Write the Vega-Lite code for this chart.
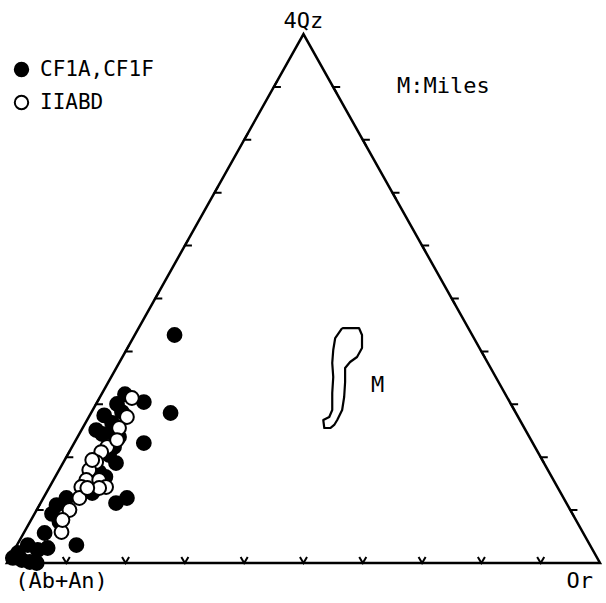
{
  "$schema": "https://vega.github.io/schema/vega-lite/v6.json",
  "width": 606,
  "height": 603,
  "autosize": {"type": "fit", "contains": "padding"},
  "padding": 0,
  "background": "white",
  "config": {"view": {"stroke": null}},
  "datasets": {
    "triangle": [
      {"order": 0, "x": 0, "y": 0},
      {"order": 1, "x": 100, "y": 0},
      {"order": 2, "x": 50, "y": 100},
      {"order": 3, "x": 0, "y": 0},
      {"order": 4, "x": 100, "y": 0}
    ],
    "ticks": [
      {"edge": "bottom", "x": 10, "y": 0}, {"edge": "bottom", "x": 20, "y": 0}, {"edge": "bottom", "x": 30, "y": 0},
      {"edge": "bottom", "x": 40, "y": 0}, {"edge": "bottom", "x": 50, "y": 0}, {"edge": "bottom", "x": 60, "y": 0},
      {"edge": "bottom", "x": 70, "y": 0}, {"edge": "bottom", "x": 80, "y": 0}, {"edge": "bottom", "x": 90, "y": 0},
      {"edge": "left", "x": 5, "y": 10}, {"edge": "left", "x": 10, "y": 20}, {"edge": "left", "x": 15, "y": 30},
      {"edge": "left", "x": 20, "y": 40}, {"edge": "left", "x": 25, "y": 50}, {"edge": "left", "x": 30, "y": 60},
      {"edge": "left", "x": 35, "y": 70}, {"edge": "left", "x": 40, "y": 80}, {"edge": "left", "x": 45, "y": 90},
      {"edge": "right", "x": 95, "y": 10}, {"edge": "right", "x": 90, "y": 20}, {"edge": "right", "x": 85, "y": 30},
      {"edge": "right", "x": 80, "y": 40}, {"edge": "right", "x": 75, "y": 50}, {"edge": "right", "x": 70, "y": 60},
      {"edge": "right", "x": 65, "y": 70}, {"edge": "right", "x": 60, "y": 80}, {"edge": "right", "x": 55, "y": 90}
    ],
    "miles": [
      {"order": 0, "x": 56.52, "y": 44.42}, {"order": 1, "x": 59.36, "y": 44.42}, {"order": 2, "x": 59.87, "y": 43.1},
      {"order": 3, "x": 59.87, "y": 40.64}, {"order": 4, "x": 59.03, "y": 38.94}, {"order": 5, "x": 57.86, "y": 38.0},
      {"order": 6, "x": 57.02, "y": 36.86}, {"order": 7, "x": 57.02, "y": 34.22}, {"order": 8, "x": 56.86, "y": 31.38},
      {"order": 9, "x": 56.52, "y": 28.92}, {"order": 10, "x": 55.69, "y": 27.03}, {"order": 11, "x": 55.18, "y": 26.09},
      {"order": 12, "x": 54.52, "y": 25.52}, {"order": 13, "x": 53.51, "y": 25.52}, {"order": 14, "x": 53.34, "y": 27.03},
      {"order": 15, "x": 54.35, "y": 27.6}, {"order": 16, "x": 54.85, "y": 28.92}, {"order": 17, "x": 54.85, "y": 32.14},
      {"order": 18, "x": 55.02, "y": 35.16}, {"order": 19, "x": 54.85, "y": 37.81}, {"order": 20, "x": 55.02, "y": 40.26},
      {"order": 21, "x": 55.35, "y": 42.53}, {"order": 22, "x": 56.52, "y": 44.42}
    ],
    "samples": [
      {"group": "CF1A,CF1F", "x": 28.26, "y": 43.1},
      {"group": "CF1A,CF1F", "x": 27.59, "y": 28.36},
      {"group": "CF1A,CF1F", "x": 23.08, "y": 30.43},
      {"group": "CF1A,CF1F", "x": 18.56, "y": 30.06},
      {"group": "CF1A,CF1F", "x": 15.05, "y": 25.14},
      {"group": "CF1A,CF1F", "x": 17.73, "y": 26.47},
      {"group": "CF1A,CF1F", "x": 18.9, "y": 23.82},
      {"group": "CF1A,CF1F", "x": 18.06, "y": 21.93},
      {"group": "CF1A,CF1F", "x": 23.08, "y": 22.68},
      {"group": "CF1A,CF1F", "x": 18.39, "y": 18.9},
      {"group": "CF1A,CF1F", "x": 15.55, "y": 17.2},
      {"group": "CF1A,CF1F", "x": 14.38, "y": 13.23},
      {"group": "CF1A,CF1F", "x": 18.39, "y": 11.34},
      {"group": "CF1A,CF1F", "x": 20.23, "y": 12.29},
      {"group": "CF1A,CF1F", "x": 10.03, "y": 12.29},
      {"group": "CF1A,CF1F", "x": 8.36, "y": 10.96},
      {"group": "CF1A,CF1F", "x": 8.86, "y": 7.75},
      {"group": "CF1A,CF1F", "x": 6.35, "y": 5.67},
      {"group": "CF1A,CF1F", "x": 11.71, "y": 3.4},
      {"group": "CF1A,CF1F", "x": 3.51, "y": 3.4},
      {"group": "CF1A,CF1F", "x": 1.84, "y": 1.89},
      {"group": "CF1A,CF1F", "x": 5.18, "y": 2.46},
      {"group": "CF1A,CF1F", "x": 6.86, "y": 2.84},
      {"group": "CF1A,CF1F", "x": 3.85, "y": 0.19},
      {"group": "CF1A,CF1F", "x": 1.0, "y": 0.95},
      {"group": "CF1A,CF1F", "x": 5.02, "y": 0.0},
      {"group": "CF1A,CF1F", "x": 2.51, "y": 0.57},
      {"group": "CF1A,CF1F", "x": 19.4, "y": 28.54},
      {"group": "CF1A,CF1F", "x": 17.22, "y": 20.42},
      {"group": "CF1A,CF1F", "x": 16.05, "y": 24.39},
      {"group": "CF1A,CF1F", "x": 17.73, "y": 24.57},
      {"group": "CF1A,CF1F", "x": 16.4, "y": 27.9},
      {"group": "CF1A,CF1F", "x": 19.9, "y": 31.9},
      {"group": "CF1A,CF1F", "x": 16.6, "y": 16.3},
      {"group": "CF1A,CF1F", "x": 7.6, "y": 9.3},
      {"group": "IIABD", "x": 21.07, "y": 31.19},
      {"group": "IIABD", "x": 20.23, "y": 27.6},
      {"group": "IIABD", "x": 18.9, "y": 25.52},
      {"group": "IIABD", "x": 16.89, "y": 21.93},
      {"group": "IIABD", "x": 15.89, "y": 20.98},
      {"group": "IIABD", "x": 15.05, "y": 19.09},
      {"group": "IIABD", "x": 13.88, "y": 17.58},
      {"group": "IIABD", "x": 13.38, "y": 15.69},
      {"group": "IIABD", "x": 15.55, "y": 15.69},
      {"group": "IIABD", "x": 16.72, "y": 14.37},
      {"group": "IIABD", "x": 12.54, "y": 14.37},
      {"group": "IIABD", "x": 12.21, "y": 12.29},
      {"group": "IIABD", "x": 10.54, "y": 10.02},
      {"group": "IIABD", "x": 9.2, "y": 5.86},
      {"group": "IIABD", "x": 18.56, "y": 23.25},
      {"group": "IIABD", "x": 15.55, "y": 14.18},
      {"group": "IIABD", "x": 9.36, "y": 8.13},
      {"group": "IIABD", "x": 14.38, "y": 19.47},
      {"group": "IIABD", "x": 13.55, "y": 14.18}
    ],
    "labels": [
      {"label": "4Qz", "x": 50.0, "y": 102.4},
      {"label": "(Ab+An)", "x": 9.2, "y": -3.4},
      {"label": "Or", "x": 96.6, "y": -3.4},
      {"label": "M:Miles", "x": 73.6, "y": 90.2},
      {"label": "M", "x": 62.5, "y": 33.6}
    ]
  },
  "layer": [
    {
      "data": {"name": "triangle"},
      "mark": {"type": "line", "color": "black", "strokeWidth": 2.5, "strokeJoin": "miter"},
      "encoding": {
        "x": {"field": "x", "type": "quantitative", "axis": null, "scale": {"domain": [-1.171, 100.167], "nice": false, "zero": false}},
        "y": {"field": "y", "type": "quantitative", "axis": null, "scale": {"domain": [-7.56, 106.43], "nice": false, "zero": false}},
        "order": {"field": "order", "type": "quantitative"}
      }
    },
    {
      "data": {"name": "ticks"},
      "mark": {"type": "point", "shape": "M-0.5,-0.866L0,0L0.5,-0.866", "filled": false, "stroke": "black", "strokeWidth": 2, "size": 200, "opacity": 1},
      "encoding": {
        "x": {"field": "x", "type": "quantitative"},
        "y": {"field": "y", "type": "quantitative"},
        "angle": {"field": "edge", "type": "nominal", "scale": {"domain": ["bottom", "left", "right"], "range": [0, 120, 240]}, "legend": null}
      }
    },
    {
      "data": {"name": "miles"},
      "mark": {"type": "line", "color": "black", "strokeWidth": 2.2, "strokeJoin": "round"},
      "encoding": {
        "x": {"field": "x", "type": "quantitative"},
        "y": {"field": "y", "type": "quantitative"},
        "order": {"field": "order", "type": "quantitative"}
      }
    },
    {
      "data": {"name": "samples"},
      "mark": {"type": "point", "shape": "circle", "filled": true, "stroke": "black", "strokeWidth": 2, "size": 190, "opacity": 1},
      "encoding": {
        "x": {"field": "x", "type": "quantitative"},
        "y": {"field": "y", "type": "quantitative"},
        "fill": {
          "field": "group", "type": "nominal",
          "scale": {"domain": ["CF1A,CF1F", "IIABD"], "range": ["black", "white"]},
          "legend": {
            "title": null, "orient": "none", "legendX": 11, "legendY": 59,
            "padding": 0, "labelFont": "DejaVu Sans Mono", "labelFontSize": 21, "labelColor": "black",
            "labelOffset": 8, "rowPadding": 10, "symbolSize": 180, "symbolStrokeWidth": 2,
            "symbolStrokeColor": "black", "symbolOpacity": 1, "symbolType": "circle"
          }
        }
      }
    },
    {
      "data": {"name": "labels"},
      "mark": {"type": "text", "font": "DejaVu Sans Mono", "fontSize": 22, "color": "black", "baseline": "middle", "align": "center"},
      "encoding": {
        "x": {"field": "x", "type": "quantitative"},
        "y": {"field": "y", "type": "quantitative"},
        "text": {"field": "label", "type": "nominal"}
      }
    }
  ]
}
